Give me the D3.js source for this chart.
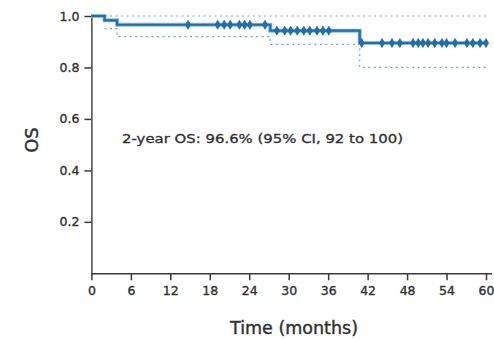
<!DOCTYPE html>
<html>
<head>
<meta charset="utf-8">
<script src="https://cdn.jsdelivr.net/npm/d3@7"></script>
<style>
  html, body { margin: 0; padding: 0; background: #fff; }
  svg { display: block; }
</style>
</head>
<body>
<svg id="chart" width="494" height="339"></svg>
<script>
// Kaplan–Meier overall survival estimate with 95% confidence band
const stepTimes = [0, 2.0, 3.9, 27.2, 40.8];
const survival  = [1.0, 0.983, 0.966, 0.943, 0.895];
const lowerCI   = [1.0, 0.951, 0.920, 0.890, 0.800];
const upperCI   = [1.0, 1.0, 1.0, 1.0, 1.0];
const followUpEnd = 60;

// censored observations (months)
const censorTimes = [
  14.7, 19.2, 20.2, 21.1, 22.5, 23.3, 24.1, 26.4,
  28.2, 29.4, 30.3, 31.3, 32.3, 33.2, 34.3, 35.2, 36.1,
  41.1, 44.2, 45.7, 46.9, 48.9, 49.7, 50.4, 51.2, 52.2, 53.3, 54.0, 55.3, 57.1, 58.0, 59.1, 60.0
];

const xTicks = [0, 6, 12, 18, 24, 30, 36, 42, 48, 54, 60];
const yTicks = [0.2, 0.4, 0.6, 0.8, 1.0];
const xTitle = "Time (months)";
const yTitle = "OS";
const note = "2-year OS: 96.6% (95% CI, 92 to 100)";

const svg = d3.select("#chart");
const x = d3.scaleLinear().domain([0, 60]).range([91.4, 486]);
const y = d3.scaleLinear().domain([0, 1]).range([273.3, 16]);

const axisColor = "#3a3a3a";
const textColor = "#303030";
const curveColor = "#1f6fa8";
const ciColor = "#6fa5cf";
const tickFont = "DejaVu Sans, sans-serif";

// slightly heavier text strokes
function heavy(sel, w) {
  sel.attr("stroke", textColor).attr("stroke-width", w).attr("paint-order", "stroke");
}

// x axis
const xAxis = svg.append("g")
  .attr("transform", `translate(0,${y(0)})`)
  .call(d3.axisBottom(x).tickValues(xTicks).tickSize(7).tickPadding(6).tickFormat(d3.format("d")));
xAxis.select(".domain").attr("d", `M${x(0)},0.5H492`);
// y axis
const yAxis = svg.append("g")
  .attr("transform", `translate(${x(0)},0)`)
  .call(d3.axisLeft(y).tickValues(yTicks).tickSize(7).tickPadding(5).tickFormat(d3.format(".1f")));
yAxis.select(".domain").attr("d", `M0.5,${y(1) - 2}V${y(0)}`);

[xAxis, yAxis].forEach(g => {
  g.select(".domain").attr("stroke", axisColor).attr("stroke-width", 1.4).attr("fill", "none");
  g.selectAll(".tick line").attr("stroke", axisColor).attr("stroke-width", 1.5);
  g.selectAll(".tick text")
    .attr("fill", textColor)
    .style("font-family", tickFont)
    .style("font-size", "12.5px")
    .call(heavy, 0.35);
});

// axis titles
svg.append("text")
  .attr("x", 294).attr("y", 333.5)
  .attr("text-anchor", "middle")
  .attr("fill", textColor)
  .style("font-family", tickFont)
  .style("font-size", "17.5px")
  .call(heavy, 0.4)
  .text(xTitle);

svg.append("text")
  .attr("transform", "translate(37.5,140) rotate(-90)")
  .attr("text-anchor", "middle")
  .attr("fill", textColor)
  .style("font-family", tickFont)
  .style("font-size", "18px")
  .call(heavy, 0.4)
  .text(yTitle);

// confidence band edges (dotted step lines)
const stepLine = d3.line()
  .x(d => x(d[0]))
  .y(d => y(d[1]))
  .curve(d3.curveStepAfter);

function bandPoints(values, fromStart) {
  const pts = [];
  stepTimes.forEach((t, i) => {
    if (fromStart ? i > 0 : survival[i] < 1) pts.push([t, values[i]]);
  });
  pts.push([followUpEnd, values[values.length - 1]]);
  return pts;
}

svg.append("path")
  .datum(bandPoints(upperCI, false))
  .attr("d", stepLine)
  .attr("fill", "none")
  .attr("stroke", ciColor)
  .attr("stroke-width", 1.2)
  .attr("stroke-dasharray", "2,3.5");

svg.append("path")
  .datum(bandPoints(lowerCI, true))
  .attr("d", stepLine)
  .attr("fill", "none")
  .attr("stroke", ciColor)
  .attr("stroke-width", 1.2)
  .attr("stroke-dasharray", "2,3.5");

// survival curve
const curvePts = stepTimes.map((t, i) => [t, survival[i]]);
curvePts.push([followUpEnd, survival[survival.length - 1]]);

svg.append("path")
  .datum(curvePts)
  .attr("d", stepLine)
  .attr("fill", "none")
  .attr("stroke", "#8dbadb")
  .attr("stroke-width", 4);

svg.append("path")
  .datum(curvePts)
  .attr("d", stepLine)
  .attr("fill", "none")
  .attr("stroke", curveColor)
  .attr("stroke-width", 2.2);

// censor marks
const survAt = t => survival[d3.bisectRight(stepTimes, t) - 1];
svg.append("g")
  .selectAll("path")
  .data(censorTimes)
  .join("path")
  .attr("transform", d => `translate(${x(d)},${y(survAt(d))})`)
  .attr("d", "M0,-4.5L2.6,0L0,4.5L-2.6,0Z")
  .attr("fill", curveColor)
  .attr("stroke", curveColor)
  .attr("stroke-width", 0.8);

// annotation
svg.append("text")
  .attr("x", 122).attr("y", 142.5)
  .attr("fill", textColor)
  .attr("textLength", 281)
  .attr("lengthAdjust", "spacingAndGlyphs")
  .style("font-family", tickFont)
  .style("font-size", "12px")
  .call(heavy, 0.3)
  .text(note);
</script>
</body>
</html>
